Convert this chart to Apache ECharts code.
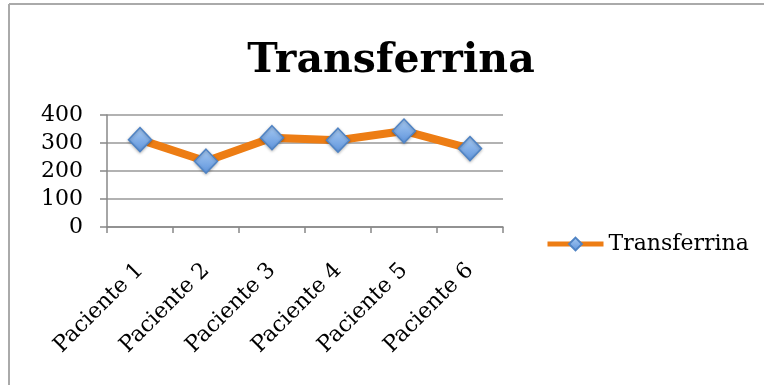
<!DOCTYPE html>
<html>
<head>
<meta charset="utf-8">
<script src="https://cdn.jsdelivr.net/npm/echarts@6/dist/echarts.min.js"></script>
<style>
  html, body { margin: 0; padding: 0; background: #fff; }
  #chart { width: 764px; height: 385px; }
</style>
</head>
<body>
<div id="chart"></div>
<script>
// Transferrin level per patient
const categories = ['Paciente 1', 'Paciente 2', 'Paciente 3', 'Paciente 4', 'Paciente 5', 'Paciente 6'];
const transferrina = [312, 235, 319, 310, 343, 280];
const yTicks = { min: 0, max: 400, interval: 100 };

const serif = '"DejaVu Serif", "Liberation Serif", serif';
const chart = echarts.init(document.getElementById('chart'), null, { renderer: 'canvas' });

chart.setOption({
  backgroundColor: '#fff',
  animation: false,
  title: {
    text: 'Transferrina',
    left: 386, top: 36, textAlign: 'center',
    textStyle: { fontFamily: serif, fontWeight: 'bold', fontSize: 41, color: '#000' }
  },
  graphic: [
    { type: 'line', shape: { x1: 9, y1: 4, x2: 764, y2: 4 }, style: { stroke: '#aaa', lineWidth: 2 } },
    { type: 'line', shape: { x1: 9, y1: 4, x2: 9, y2: 385 }, style: { stroke: '#aaa', lineWidth: 2 } }
  ],
  legend: {
    left: 540, top: 228,
    itemWidth: 56, itemHeight: 16, itemGap: 4,
    textStyle: { fontFamily: serif, fontSize: 22, color: '#000' },
    data: [{ name: 'Transferrina', lineStyle: { width: 5, color: '#ED7D14' } }]
  },
  grid: { left: 107, right: 261, top: 115, bottom: 158 },
  xAxis: {
    type: 'category',
    data: categories,
    boundaryGap: true,
    axisLine: { lineStyle: { color: '#888', width: 1.5 } },
    axisTick: { show: true, length: 6, lineStyle: { color: '#888', width: 1.5 } },
    axisLabel: { rotate: 45, margin: 40, fontFamily: serif, fontSize: 22, color: '#000', interval: 0 }
  },
  yAxis: {
    type: 'value',
    min: yTicks.min, max: yTicks.max, interval: yTicks.interval,
    axisLine: { show: true, lineStyle: { color: '#888', width: 1.5 } },
    axisTick: { show: true, length: 7, lineStyle: { color: '#888', width: 1.5 } },
    splitLine: { lineStyle: { color: '#999', width: 1.5 } },
    axisLabel: { margin: 24, fontFamily: serif, fontSize: 22, color: '#000' }
  },
  series: [{
    name: 'Transferrina',
    type: 'line',
    data: transferrina,
    symbol: 'diamond',
    symbolSize: [23, 24],
    lineStyle: { color: '#ED7D14', width: 8 },
    itemStyle: {
      color: new echarts.graphic.LinearGradient(0, 0, 0, 1, [
        { offset: 0, color: '#a9cbf2' },
        { offset: 1, color: '#5d93dc' }
      ]),
      borderColor: '#4f83c4',
      borderWidth: 1.5,
      shadowColor: 'rgba(0,0,0,0.25)', shadowBlur: 3, shadowOffsetY: 1
    },
    z: 3
  }]
});
</script>
</body>
</html>
